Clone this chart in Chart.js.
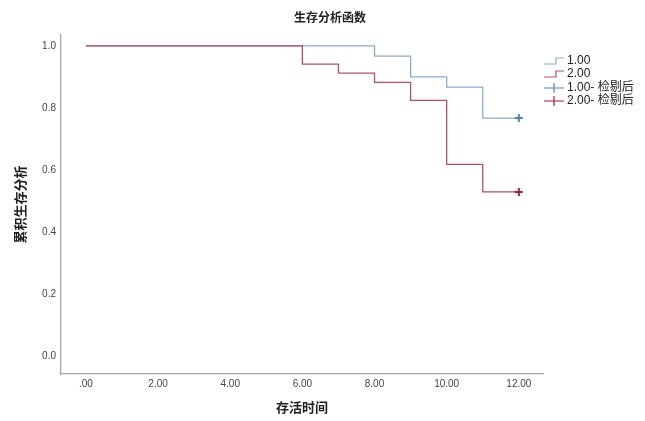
<!DOCTYPE html>
<html>
<head>
<meta charset="utf-8">
<script src="https://cdn.jsdelivr.net/npm/chart.js@4.4.0/dist/chart.umd.min.js"></script>
<style>
  body { margin: 0; background: #fff; }
</style>
</head>
<body>
<canvas id="kmChart" width="645" height="421"></canvas>
<script>
// survival time points and cumulative survival for each group
var group1Times = [0, 8, 9, 10, 11, 12];
var group1Surv  = [1.0, 0.967, 0.900, 0.867, 0.767, 0.767];
var group2Times = [0, 6, 7, 8, 9, 10, 11, 12];
var group2Surv  = [1.0, 0.941, 0.912, 0.882, 0.824, 0.618, 0.529, 0.529];
// censored observations
var group1CensorTimes = [12];
var group1CensorSurv  = [0.767];
var group2CensorTimes = [12];
var group2CensorSurv  = [0.529];

var xTicks = [0, 2, 4, 6, 8, 10, 12];
var xTickLabels = [".00", "2.00", "4.00", "6.00", "8.00", "10.00", "12.00"];
var yTicks = [0, 0.2, 0.4, 0.6, 0.8, 1.0];
var yTickLabels = ["0.0", "0.2", "0.4", "0.6", "0.8", "1.0"];
var legendLabels = ["1.00", "2.00", "1.00- 检剔后", "2.00- 检剔后"];

var blueLine = "#8aaccb";
var redLine = "#b24f6b";
var blueMark = "#4f84b3";
var redMark = "#a3203f";
var numFont = "'Liberation Sans', 'Noto Sans CJK SC', sans-serif";
var cjkFont = "'Noto Sans CJK SC', 'Liberation Sans', sans-serif";

function toPoints(xs, ys) {
  var pts = [];
  for (var i = 0; i < xs.length; i++) pts.push({x: xs[i], y: ys[i]});
  return pts;
}

// title + custom legend (step glyph / censor cross)
var decorPlugin = {
  id: "decor",
  afterDraw: function(chart) {
    var ctx = chart.ctx;
    ctx.save();
    ctx.fillStyle = "#222";
    ctx.font = "bold 12px " + cjkFont;
    ctx.textAlign = "center";
    ctx.textBaseline = "middle";
    ctx.fillText("生存分析函数", 330, 17);

    var lx = 544, rows = [61, 74, 88, 101];
    var cols = [blueLine, redLine, blueMark, redMark];
    ctx.lineWidth = 1.2;
    for (var i = 0; i < 4; i++) {
      var y = rows[i];
      ctx.strokeStyle = cols[i];
      ctx.beginPath();
      if (i < 2) {
        ctx.moveTo(lx, y + 3);
        ctx.lineTo(lx + 12, y + 3);
        ctx.lineTo(lx + 12, y - 3);
        ctx.lineTo(lx + 20, y - 3);
      } else {
        ctx.moveTo(lx, y);
        ctx.lineTo(lx + 20, y);
        ctx.moveTo(lx + 10, y - 5);
        ctx.lineTo(lx + 10, y + 5);
      }
      ctx.stroke();
      ctx.fillStyle = "#222";
      ctx.textAlign = "left";
      ctx.font = "12px " + numFont;
      ctx.fillText(legendLabels[i], lx + 23, y);
    }
    ctx.restore();
  }
};

new Chart(document.getElementById("kmChart"), {
  type: "line",
  data: {
    datasets: [
      {
        label: legendLabels[1],
        data: toPoints(group2Times, group2Surv),
        borderColor: redLine,
        borderWidth: 1.3,
        stepped: true,
        pointRadius: 0,
        fill: false,
        order: 1
      },
      {
        label: legendLabels[0],
        data: toPoints(group1Times, group1Surv),
        borderColor: blueLine,
        borderWidth: 1.3,
        stepped: true,
        pointRadius: 0,
        fill: false,
        order: 2
      },
      {
        label: legendLabels[2],
        data: toPoints(group1CensorTimes, group1CensorSurv),
        showLine: false,
        pointStyle: "cross",
        pointRadius: 4,
        pointBorderWidth: 2,
        borderColor: blueMark,
        order: 0
      },
      {
        label: legendLabels[3],
        data: toPoints(group2CensorTimes, group2CensorSurv),
        showLine: false,
        pointStyle: "cross",
        pointRadius: 4,
        pointBorderWidth: 2,
        borderColor: redMark,
        order: 0
      }
    ]
  },
  options: {
    responsive: false,
    animation: false,
    layout: { padding: { top: 35, right: 102, left: 0, bottom: 0 } },
    plugins: {
      legend: { display: false },
      tooltip: { enabled: false }
    },
    scales: {
      x: {
        type: "linear",
        min: -0.69,
        max: 12.67,
        afterBuildTicks: function(scale) {
          scale.ticks = xTicks.map(function(v) { return {value: v}; });
        },
        afterFit: function(scale) { scale.height = 47; },
        grid: { display: false, drawTicks: false },
        border: { display: true, color: "#a8a8a8", width: 1.3 },
        ticks: {
          padding: 4,
          maxRotation: 0,
          color: "#444",
          font: { family: numFont, size: 10 },
          callback: function(v) { return xTickLabels[xTicks.indexOf(v)]; }
        },
        title: {
          display: true,
          text: "存活时间",
          color: "#222",
          padding: { top: 0, bottom: 6 },
          font: { family: cjkFont, size: 13, weight: "bold" }
        }
      },
      y: {
        type: "linear",
        min: -0.058,
        max: 1.035,
        afterBuildTicks: function(scale) {
          scale.ticks = yTicks.map(function(v) { return {value: v}; });
        },
        afterFit: function(scale) { scale.width = 61; },
        grid: { display: false, drawTicks: false },
        border: { display: true, color: "#a8a8a8", width: 1.3 },
        ticks: {
          padding: 5,
          color: "#444",
          font: { family: numFont, size: 10 },
          callback: function(v) { return yTickLabels[yTicks.indexOf(v)]; }
        },
        title: {
          display: true,
          text: "累积生存分析",
          color: "#222",
          padding: { top: 12, bottom: 0 },
          font: { family: cjkFont, size: 13, weight: "bold" }
        }
      }
    }
  },
  plugins: [decorPlugin]
});
</script>
</body>
</html>
